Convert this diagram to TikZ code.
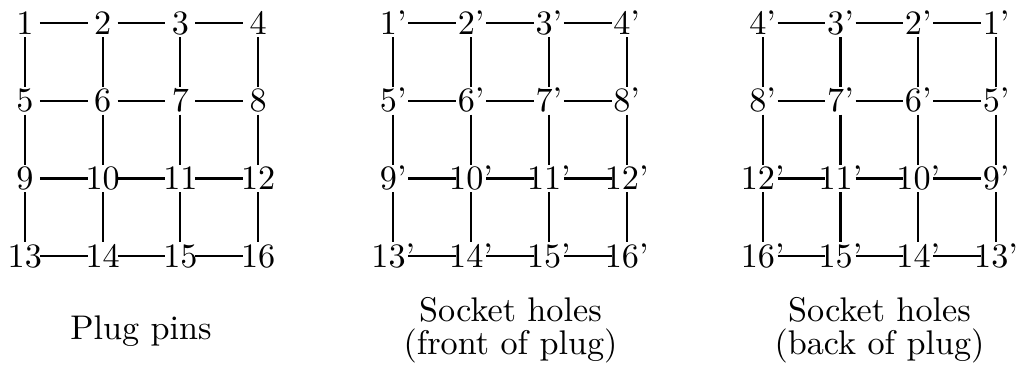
\documentclass[tikz,border=0pt]{standalone}
\newcommand\pinbox[1]{\makebox[8.4pt]{#1}}
\begin{document}
\begin{tikzpicture}[x=0.2924pt,y=-0.2924pt,
  pinnode/.style={inner xsep=0pt,inner ysep=0.6pt,text height=6.44pt,text depth=0pt},
  wire/.style={line width=0.6pt},
  captext/.style={align=center,font=\fontsize{10pt}{9.4pt}\selectfont,anchor=base}]
\useasboundingbox (0,0) rectangle (1019,366);
\foreach \i in {1,...,16}{
  \pgfmathtruncatemacro\r{(\i-1)/4}
  \pgfmathtruncatemacro\c{mod(\i-1,4)}
  \pgfmathtruncatemacro\m{4*\r+4-\c}
  \node[pinnode] (a\i) at (24.8+77.8*\c, 23.3+77.6*\r) {\pinbox{\i}};
  \node[pinnode] (b\i) at (393.3+77.8*\c, 23.3+77.6*\r) {\pinbox{\i'}};
  \node[pinnode] (c\i) at (762.7+77.8*\c, 23.3+77.6*\r) {\pinbox{\m'}};
}
\foreach \i in {1,...,16}{
  \pgfmathtruncatemacro\c{mod(\i-1,4)}
  \pgfmathtruncatemacro\j{\i+1}
  \pgfmathtruncatemacro\k{\i+4}
  \ifnum\c<3
    \draw[wire] (a\i) -- (a\j);
    \draw[wire] (b\i) -- (b\j);
    \draw[wire] (c\i) -- (c\j);
  \fi
  \ifnum\i<13
    \draw[wire] (a\i) -- (a\k);
    \draw[wire] (b\i) -- (b\k);
    \draw[wire] (c\i) -- (c\k);
  \fi
}
\node[captext] (cap1) at (141,339) {Plug pins};
\node[captext] (cap2) at (510.5,354) {Socket holes\\(front of plug)};
\node[captext] (cap3) at (879.5,354) {Socket holes\\(back of plug)};
\end{tikzpicture}
\end{document}
